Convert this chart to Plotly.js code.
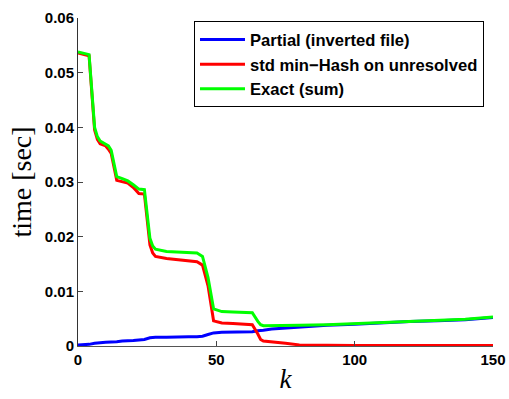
<!DOCTYPE html>
<html>
<head>
<meta charset="utf-8">
<script src="https://cdn.plot.ly/plotly-3.0.1.min.js"></script>
<style>html,body{margin:0;padding:0;background:#fff;}#chart{width:509px;height:399px;}</style>
</head>
<body>
<div id="chart"></div>
<script>
const kValues = [0, 4, 6, 7, 8, 10, 11, 12, 14, 16, 18, 20, 22, 24, 26, 27, 28, 32, 36, 40, 43, 45, 47, 49, 52, 56, 60, 63, 65, 66, 67, 70, 75, 80, 90, 100, 110, 120, 130, 140, 150];
const partialTime = [0.0002, 0.0003, 0.0005, 0.0006, 0.0006, 0.0007, 0.0007, 0.0008, 0.0008, 0.0009, 0.0009, 0.0010, 0.0011, 0.0012, 0.0015, 0.0016, 0.0016, 0.0016, 0.0017, 0.0017, 0.0017, 0.0018, 0.0021, 0.0024, 0.0025, 0.0025, 0.0026, 0.0026, 0.0028, 0.0029, 0.0029, 0.0031, 0.0033, 0.0035, 0.0038, 0.0040, 0.0043, 0.0045, 0.0046, 0.0048, 0.0052];
const minHashTime = [0.0536, 0.0531, 0.0395, 0.0378, 0.0370, 0.0366, 0.0360, 0.0352, 0.0303, 0.0300, 0.0298, 0.0290, 0.0279, 0.0278, 0.0185, 0.0170, 0.0164, 0.0160, 0.0158, 0.0156, 0.0154, 0.0148, 0.0110, 0.0046, 0.0042, 0.0041, 0.0040, 0.0039, 0.0022, 0.0012, 0.0009, 0.0008, 0.0005, 0.0002, 0.0001, 0.0001, 0.0001, 0.0001, 0.0001, 0.0001, 0.0001];
const exactTime = [0.0538, 0.0533, 0.0400, 0.0383, 0.0375, 0.0370, 0.0366, 0.0358, 0.0310, 0.0306, 0.0302, 0.0295, 0.0287, 0.0286, 0.0197, 0.0183, 0.0177, 0.0173, 0.0172, 0.0172, 0.0170, 0.0164, 0.0125, 0.0068, 0.0063, 0.0062, 0.0062, 0.0061, 0.0045, 0.0039, 0.0037, 0.0037, 0.0037, 0.0038, 0.0039, 0.0041, 0.0044, 0.0046, 0.0047, 0.0049, 0.0053];
const seriesNames = ["Partial (inverted file)", "std min\u2212Hash on unresolved", "Exact (sum)"];
const xTickVals = [0, 50, 100, 150];
const xTickText = ["0", "50", "100", "150"];
const yTickVals = [0, 0.01, 0.02, 0.03, 0.04, 0.05, 0.06];
const yTickText = ["0", "0.01", "0.02", "0.03", "0.04", "0.05", "0.06"];

const colors = ["#0000ff", "#ff0000", "#00ff00"];
const ys = [partialTime, minHashTime, exactTime];
const traces = ys.map((y, i) => ({
  x: kValues, y: y, type: "scatter", mode: "lines", name: seriesNames[i],
  line: {color: colors[i], width: 3}
}));

const tickFont = {family: "Liberation Sans, Arial, sans-serif", size: 15, color: "#000", weight: "bold"};
const layout = {
  width: 509, height: 399,
  margin: {l: 78, r: 16, t: 18, b: 53},
  paper_bgcolor: "#fff", plot_bgcolor: "#fff",
  showlegend: true,
  legend: {
    x: 0.2795, xanchor: "left", y: 0.99, yanchor: "top",
    bordercolor: "#000", borderwidth: 1, bgcolor: "#fff",
    itemwidth: 45,
    font: {family: "Liberation Sans, Arial, sans-serif", size: 16.6, color: "#000", weight: "bold"},
    tracegroupgap: 0
  },
  xaxis: {
    range: [0, 150], tickvals: xTickVals, ticktext: xTickText,
    ticks: "inside", ticklen: 5, tickcolor: "#444", showgrid: false, zeroline: false,
    showline: true, linecolor: "#555", linewidth: 1, tickfont: tickFont,
    title: {text: "k", font: {family: "Liberation Serif, Times New Roman, serif", size: 27, color: "#000", style: "italic"}, standoff: 2}
  },
  yaxis: {
    range: [0, 0.06], tickvals: yTickVals, ticktext: yTickText,
    ticks: "inside", ticklen: 5, tickcolor: "#444", showgrid: false, zeroline: false,
    showline: true, linecolor: "#333", linewidth: 1, tickfont: tickFont,
    title: {text: "time [sec]", font: {family: "Liberation Serif, Times New Roman, serif", size: 28, color: "#000"}, standoff: 4}
  }
};
Plotly.newPlot("chart", traces, layout, {displayModeBar: false, staticPlot: true});
</script>
</body>
</html>
